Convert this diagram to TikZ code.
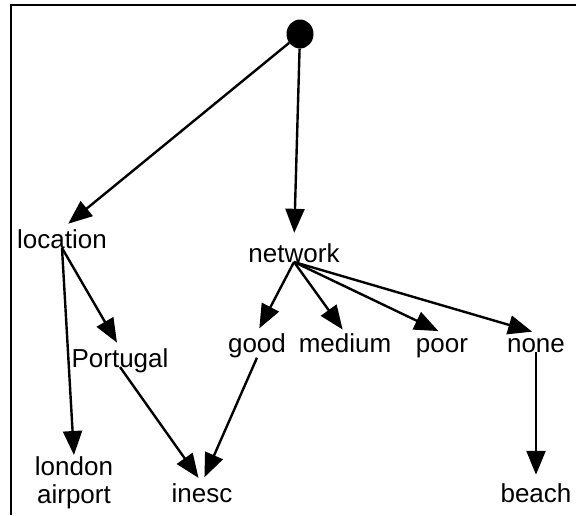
\documentclass[tikz,border=0pt]{standalone}
\usepackage{fontspec}
\setmainfont{Liberation Sans}
\usetikzlibrary{arrows.meta,shapes.geometric}
\begin{document}
\begin{tikzpicture}[x=1pt,y=-1pt,
  lbl/.style={inner sep=0pt, text height=19pt, text depth=5.5pt, anchor=base,
              font=\fontsize{26}{28}\selectfont},
  arr/.style={line width=2.4pt, -{Triangle[length=24pt,width=19pt]}},
  frame/.style={line width=2.6pt},
  rootdot/.style={ellipse, fill=black, inner sep=0pt, minimum width=27pt, minimum height=29pt}]
  \useasboundingbox (0,0) rectangle (576,515);

  % frame (left and top edges)
  \draw[frame] (11,515) -- (11,5) -- (576,5);

  % root and labels
  \node[rootdot] (root) at (300,34) {};
  \node[lbl] (location) at (62,248) {location};
  \node[lbl] (network) at (294,262) {network};
  \node[lbl] (portugal) at (120,367) {Portugal};
  \node[lbl] (good) at (257,352) {good};
  \node[lbl] (medium) at (345,352) {medium};
  \node[lbl] (poor) at (442,352) {poor};
  \node[lbl] (none) at (536,352) {none};
  \node[inner sep=0pt, anchor=north, align=center, font=\fontsize{26}{28}\selectfont]
    (london) at (74,456) {london\\airport};
  \node[lbl] (inesc) at (202,502) {inesc};
  \node[lbl] (beach) at (536,502) {beach};

  % connectors
  \draw[arr, shorten >=8pt] (root) -- (location.north);
  \draw[arr, shorten >=10pt] (root) -- (network.north);
  \draw[arr, shorten >=6pt] (location.base) -- (portugal.north);
  \draw[arr, shorten >=1pt] (location.base) -- (london.north);
  \draw[arr, shorten >=5pt] (network.base) -- (good.north);
  \draw[arr, shorten >=4pt] (network.base) -- (medium.north);
  \draw[arr, shorten >=4pt] (network.base) -- (poor.north);
  \draw[arr, shorten >=4pt] (network.base) -- (none.north);
  \draw[arr, shorten >=6pt] (portugal.base) -- (inesc.north);
  \draw[arr, shorten >=6pt] (good.south) -- (inesc.north);
  \draw[arr, shorten >=8pt] (none.base) -- (beach.north);
\end{tikzpicture}
\end{document}
